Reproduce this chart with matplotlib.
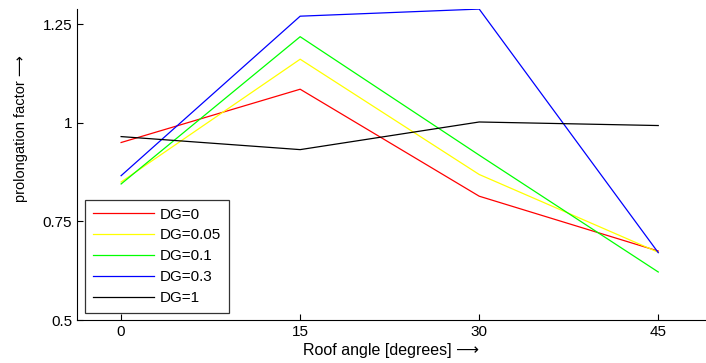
import matplotlib.pyplot as plt

plt.rcParams["font.family"] = ["Liberation Sans", "DejaVu Sans"]

# Data
angles = [0, 15, 30, 45]
dg_labels = ["DG=0", "DG=0.05", "DG=0.1", "DG=0.3", "DG=1"]
dg_0 = [0.950, 1.085, 0.814, 0.675]
dg_005 = [0.850, 1.161, 0.869, 0.672]
dg_01 = [0.845, 1.218, 0.918, 0.622]
dg_03 = [0.866, 1.270, 1.288, 0.671]
dg_1 = [0.965, 0.932, 1.002, 0.993]
colors = ["#ff0000", "#ffff00", "#00ff00", "#0000ff", "#000000"]


fig = plt.figure(figsize=(7.06, 3.63), dpi=100)
ax = fig.add_axes([0.109, 0.118, 0.891, 0.857])

series = [dg_0, dg_005, dg_01, dg_03, dg_1]
for vals, lab, col in zip(series, dg_labels, colors):
    ax.plot(angles, vals, color=col, linewidth=0.9, label=lab)

ax.set_xlim(-3.7, 49)
ax.set_ylim(0.5, 1.288)
ax.set_xticks([0, 15, 30, 45])
ax.set_yticks([0.5, 0.75, 1.0, 1.25])
ax.set_yticklabels(["0.5", "0.75", "1", "1.25"])

ax.spines["top"].set_visible(False)
ax.spines["right"].set_visible(False)
ax.tick_params(direction="in", length=4, labelsize=11, color="black")

ax.set_xlabel("Roof angle [degrees] \u27f6", fontsize=11.5, labelpad=3)
ax.set_ylabel("prolongation factor \u27f6", fontsize=10.5)
ax.yaxis.set_label_coords(-0.078, 0.617)

leg = ax.legend(loc="lower left", bbox_to_anchor=(0.013, 0.024),
                borderaxespad=0, fontsize=11, handlelength=4.0,
                handletextpad=0.4, labelspacing=0.45, borderpad=0.5,
                fancybox=False)
leg.get_frame().set_edgecolor("black")
leg.get_frame().set_linewidth(0.9)

fig.savefig("out.png", dpi=100)
